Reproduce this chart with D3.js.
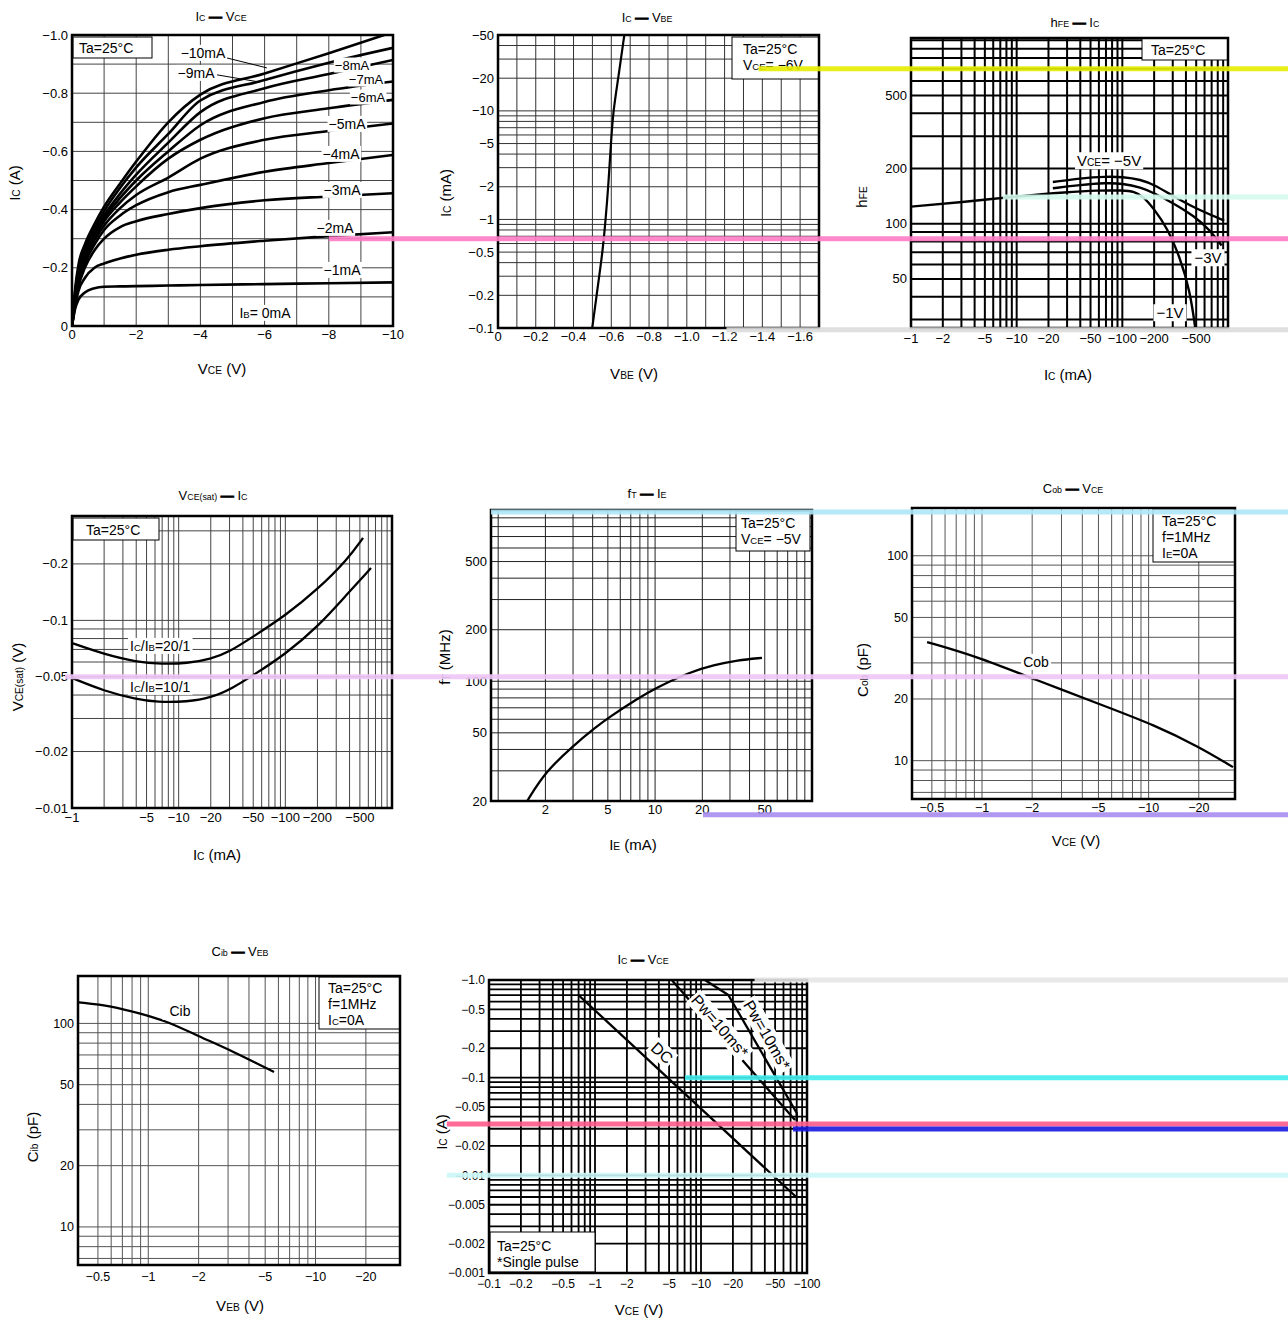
<!DOCTYPE html>
<html lang="en">
<head>
<meta charset="UTF-8" />
<script src="https://d3js.org/d3.v7.min.js"></script>
<title>PNP transistor characteristics</title>
<style>
  body { margin: 0; background: #fff; }
  svg { display: block; font-family: "Liberation Sans", Arial, sans-serif; }
</style>
</head>
<body>
<div id="sheet"></div>
<script>
// ---------- data (magnitudes; the sheet shows them as negative) ----------

// Ic - Vce, one curve per base current
const vceSteps = [0, 0.1, 0.2, 0.4, 0.7, 1, 1.5, 2, 3, 4, 6, 8, 10];
const icIb1  = [0, 0.06, 0.09, 0.115, 0.13, 0.135, 0.136, 0.137, 0.139, 0.141, 0.144, 0.147, 0.15];
const icIb2  = [0, 0.07, 0.12, 0.165, 0.2, 0.215, 0.232, 0.245, 0.262, 0.274, 0.293, 0.309, 0.322];
const icIb3  = [0, 0.08, 0.135, 0.2, 0.26, 0.3, 0.34, 0.36, 0.385, 0.405, 0.432, 0.445, 0.456];
const icIb4  = [0, 0.085, 0.145, 0.215, 0.28, 0.33, 0.38, 0.415, 0.46, 0.485, 0.53, 0.56, 0.588];
const icIb5  = [0, 0.09, 0.15, 0.225, 0.295, 0.345, 0.405, 0.45, 0.51, 0.575, 0.64, 0.67, 0.696];
const icIb6  = [0, 0.095, 0.16, 0.235, 0.305, 0.36, 0.425, 0.48, 0.575, 0.64, 0.714, 0.748, 0.777];
const icIb7  = [0, 0.1, 0.17, 0.245, 0.315, 0.37, 0.44, 0.5, 0.6, 0.69, 0.77, 0.81, 0.84];
const icIb8  = [0, 0.11, 0.18, 0.255, 0.325, 0.38, 0.455, 0.52, 0.63, 0.735, 0.817, 0.866, 0.914];
const icIb9  = [0, 0.12, 0.195, 0.265, 0.335, 0.395, 0.475, 0.545, 0.66, 0.775, 0.845, 0.905, 0.956];
const icIb10 = [0, 0.13, 0.21, 0.28, 0.35, 0.41, 0.49, 0.565, 0.70, 0.795, 0.868, 0.937, 1.01];
const ivceXTicks = [0, 2, 4, 6, 8, 10];
const ivceYTicks = [0, 0.2, 0.4, 0.6, 0.8, 1.0];

// Ic - Vbe
const vbeVals = [0.499, 0.522, 0.554, 0.57, 0.584, 0.598, 0.61, 0.637, 0.669];
const icVbe   = [0.1, 0.2, 0.5, 1, 2, 5, 10, 20, 50];
const vbeXTicks = [0, 0.2, 0.4, 0.6, 0.8, 1.0, 1.2, 1.4, 1.6];
const vbeYTicks = [0.1, 0.2, 0.5, 1, 2, 5, 10, 20, 50];

// hFE - Ic
const hfeIc1V = [1, 3, 10, 30, 60, 100, 130, 160, 200, 263, 350, 437, 490];
const hfe1V   = [124, 131, 141, 149, 152, 152, 150, 140, 120, 96, 66, 43, 27];
const hfeIc3V = [22, 40, 70, 100, 150, 200, 300, 480, 680, 870];
const hfe3V   = [156, 163, 167, 166, 158, 147, 130, 110, 92, 76];
const hfeIc5V = [22, 40, 70, 100, 150, 200, 300, 480, 920];
const hfe5V   = [169, 177, 181, 180, 174, 163, 142, 122, 104];
const hfeXTicks = [1, 2, 5, 10, 20, 50, 100, 200, 500];
const hfeYTicks = [50, 100, 200, 500];

// Vce(sat) - Ic
const satIc20 = [1, 2, 4, 7, 12, 20, 30, 50, 100, 200, 380, 535];
const sat20   = [0.0757, 0.066, 0.06, 0.0585, 0.059, 0.0622, 0.068, 0.082, 0.106, 0.146, 0.21, 0.275];
const satIc10 = [1, 2, 4, 6.3, 12, 20, 32, 50, 100, 200, 380, 635];
const sat10   = [0.0493, 0.042, 0.038, 0.0366, 0.0368, 0.0386, 0.0435, 0.051, 0.066, 0.092, 0.138, 0.19];
const satXTicks = [1, 5, 10, 20, 50, 100, 200, 500];
const satYTicks = [0.01, 0.02, 0.05, 0.1, 0.2];

// fT - Ie
const ftIe = [1.53, 2, 3, 4.2, 5, 7.7, 10, 17, 23.5, 33.5, 48];
const ftVals = [20, 29.6, 42, 54, 61, 79, 91, 114, 124, 133, 137];
const ftXTicks = [2, 5, 10, 20, 50];
const ftYTicks = [20, 50, 100, 200, 500];

// Cob - Vce
const cobV = [0.468, 0.923, 2.02, 5.72, 10.64, 20.07, 32.1];
const cobVals = [37.9, 32.3, 25.1, 18.2, 15.0, 11.7, 9.3];
// Cib - Veb
const cibV = [0.383, 0.6, 0.92, 1.29, 2.0, 3.2, 5.65];
const cibVals = [127, 122, 111, 102.6, 86.5, 73, 57.7];
const capXTicks = [0.5, 1, 2, 5, 10, 20];
const capYTicks = [10, 20, 50, 100];

// safe operating area
const soaDcV = [0.697, 78.7];
const soaDcI = [0.702, 0.00604];
const soaPw1V = [5.29, 77.1];
const soaPw1I = [1.0, 0.0369];
const soaPw2V = [10.9, 18.1, 80, 80];
const soaPw2I = [1.0, 0.702, 0.0435, 0.0354];
const soaXTicks = [0.1, 0.2, 0.5, 1, 2, 5, 10, 20, 50, 100];
const soaYTicks = [1, 0.5, 0.2, 0.1, 0.05, 0.02, 0.01, 0.005, 0.002, 0.001];

// ---------- drawing ----------
const W = 1288, H = 1323;
const SANS = '"Liberation Sans", Arial, sans-serif';
const NARROW = '"Liberation Sans Narrow", "Liberation Sans", Arial, sans-serif';
const MINUS = "\u2212";

const svg = d3.select("#sheet").append("svg").attr("width", W).attr("height", H);

const neg = v => v === 0 ? "0" : MINUS + v;
const neg1 = v => v === 0 ? "0" : MINUS + v.toFixed(1);
const plain = v => String(v);

// "I_{C}" -> I with a small C, the long dash drawn heavy
function rich(t, str, size) {
  str.split(/(_\{[^}]*\}|—)/).forEach(part => {
    if (!part) return;
    const m = part.match(/^_\{(.*)\}$/);
    const s = t.append("tspan").text(m ? m[1] : part);
    if (m) s.attr("font-size", size * 0.68);
    if (part === "—") s.attr("font-weight", 700).attr("stroke", "#000").attr("stroke-width", 0.9);
  });
}

function tag(g, str, x, y, o = {}) {
  const size = o.size || 14;
  const t = g.append("text")
    .attr("x", x).attr("y", y)
    .attr("dy", "0.35em")
    .attr("text-anchor", o.anchor || "middle")
    .attr("font-size", size);
  rich(t, str, size);
  if (o.bg !== false) {
    const bb = t.node().getBBox();
    const px = o.padX ?? 2, py = o.padY ?? 0;
    g.insert("rect", () => t.node())
      .attr("x", bb.x - px).attr("y", bb.y - py)
      .attr("width", bb.width + 2 * px).attr("height", bb.height + 2 * py)
      .attr("fill", "#fff");
  }
  return t;
}

function panel(p) {
  const { l, t, r, b } = p.box;
  const x = (p.xLog ? d3.scaleLog() : d3.scaleLinear()).domain(p.xDomain).range([l, r]);
  const y = (p.yLog ? d3.scaleLog() : d3.scaleLinear()).domain(p.yDomain).range([b, t]);
  const g = svg.append("g");

  const grid = g.append("g").attr("stroke", p.gridColor).attr("stroke-width", p.gridWidth);
  grid.selectAll("line.v").data(p.xGrid(x)).join("line").attr("class", "v")
    .attr("x1", d => x(d)).attr("x2", d => x(d)).attr("y1", t).attr("y2", b);
  grid.selectAll("line.h").data(p.yGrid(y)).join("line").attr("class", "h")
    .attr("y1", d => y(d)).attr("y2", d => y(d)).attr("x1", l).attr("x2", r);

  const clipId = "clip-" + p.id;
  g.append("clipPath").attr("id", clipId).append("rect")
    .attr("x", l).attr("y", t).attr("width", r - l).attr("height", b - t);
  const plot = g.append("g").attr("clip-path", `url(#${clipId})`);
  const line = d3.line().x(d => x(d[0])).y(d => y(d[1])).curve(p.curve || d3.curveBasis);
  p.series.forEach(s => {
    plot.append("path")
      .attr("d", line(d3.zip(s[0], s[1])))
      .attr("fill", "none")
      .attr("stroke", "#000")
      .attr("stroke-width", p.lineWidth)
      .attr("stroke-linejoin", "round");
  });

  const notes = g.append("g");

  if (p.legend) {
    const L = p.legend;
    g.append("rect").attr("x", L.x).attr("y", L.y).attr("width", L.w).attr("height", L.h)
      .attr("fill", "#fff").attr("stroke", "#000").attr("stroke-width", 1);
    L.lines.forEach((s, i) => {
      const tx = g.append("text").attr("x", L.tx).attr("y", L.ty + i * 16).attr("font-size", 14);
      rich(tx, s, 14);
    });
  }

  g.append("rect").attr("x", l).attr("y", t).attr("width", r - l).attr("height", b - t)
    .attr("fill", "none").attr("stroke", "#000").attr("stroke-width", p.frameWidth || 2.5);

  g.append("g").selectAll("text").data(p.xTicks).join("text")
    .attr("x", d => x(d)).attr("y", b + p.xGap).attr("dy", "0.71em")
    .attr("text-anchor", "middle")
    .attr("font-family", p.tickFamily).attr("font-size", p.tickSize)
    .text(p.xFmt);
  g.append("g").selectAll("text").data(p.yTicks).join("text")
    .attr("x", l - 4).attr("y", d => y(d)).attr("dy", "0.35em")
    .attr("text-anchor", "end")
    .attr("font-family", p.tickFamily).attr("font-size", p.tickSize)
    .text(p.yFmt);

  const title = g.append("text").attr("x", p.title[1]).attr("y", p.title[2])
    .attr("text-anchor", "middle").attr("font-size", 13);
  rich(title, p.title[0], 13);
  const xl = g.append("text").attr("x", p.xLabel[1]).attr("y", p.xLabel[2])
    .attr("text-anchor", "middle").attr("font-size", 15);
  rich(xl, p.xLabel[0], 15);
  const yl = g.append("text").attr("x", p.yLabel[1]).attr("y", p.yLabel[2])
    .attr("dy", "0.35em").attr("text-anchor", "middle").attr("font-size", 15)
    .attr("transform", `rotate(-90,${p.yLabel[1]},${p.yLabel[2]})`);
  rich(yl, p.yLabel[0], 15);

  return { x, y, g, notes };
}

const logGrid = (lo, hi) => s => s.ticks().filter(v => v >= lo && v <= hi);

// 1. Ic - Vce
const c1 = panel({
  id: "c1", box: { l: 72, t: 35, r: 393, b: 326 },
  xDomain: [0, 10], yDomain: [0, 1],
  xGrid: () => d3.range(1, 10), yGrid: () => d3.range(1, 10).map(i => i / 10),
  gridColor: "#444", gridWidth: 1, lineWidth: 2.6, curve: d3.curveMonotoneX,
  series: [icIb1, icIb2, icIb3, icIb4, icIb5, icIb6, icIb7, icIb8, icIb9, icIb10].map(a => [vceSteps, a]),
  xTicks: ivceXTicks, yTicks: ivceYTicks, xFmt: neg, yFmt: neg1,
  tickFamily: SANS, tickSize: 13, xGap: 4,
  title: ["I_{C} — V_{CE}", 221, 21], xLabel: ["V_{CE} (V)", 222, 374], yLabel: ["I_{C} (A)", 15, 183],
  legend: { x: 73, y: 37, w: 79, h: 21, tx: 79, ty: 53, lines: ["Ta=25°C"] }
});
[[4.83, 0.921, 6.07, 0.887], [4.52, 0.863, 5.86, 0.838]].forEach(d => {
  c1.notes.append("line").attr("x1", c1.x(d[0])).attr("y1", c1.y(d[1]))
    .attr("x2", c1.x(d[2])).attr("y2", c1.y(d[3])).attr("stroke", "#000").attr("stroke-width", 1);
});
[["−10mA", 203, 53, 14], ["−9mA", 196, 73, 14], ["−8mA", 352, 65, 13], ["−7mA", 366, 79, 13], ["−6mA", 368, 97, 13],
 ["−5mA", 347, 124, 14], ["−4mA", 341, 154, 14], ["−3mA", 342, 190, 14], ["−2mA", 335, 228, 14], ["−1mA", 342, 270, 14],
 ["I_{B}= 0mA", 265, 313, 14]].forEach(d => tag(c1.notes, d[0], d[1], d[2], { size: d[3], padX: 1 }));

// 2. Ic - Vbe
const c2 = panel({
  id: "c2", box: { l: 498, t: 35, r: 819, b: 328 },
  xDomain: [0, 1.7], yLog: true, yDomain: [0.1, 50],
  xGrid: () => d3.range(1, 17).map(i => i / 10), yGrid: logGrid(0.2, 40),
  gridColor: "#333", gridWidth: 1, lineWidth: 2.2,
  series: [[vbeVals, icVbe]],
  xTicks: vbeXTicks, yTicks: vbeYTicks, xFmt: neg1, yFmt: neg,
  tickFamily: NARROW, tickSize: 13, xGap: 4,
  title: ["I_{C} — V_{BE}", 647, 22], xLabel: ["V_{BE} (V)", 634, 379], yLabel: ["I_{C} (mA)", 446, 193],
  legend: { x: 732, y: 37, w: 87, h: 42, tx: 743, ty: 54, lines: ["Ta=25°C", "V_{CE}= −6V"] }
});

// 3. hFE - Ic
const c3 = panel({
  id: "c3", box: { l: 911, t: 38, r: 1228, b: 328 },
  xLog: true, xDomain: [1, 1000], yLog: true, yDomain: [27, 1030],
  xGrid: logGrid(2, 900), yGrid: logGrid(30, 1000),
  gridColor: "#000", gridWidth: 2, lineWidth: 2.4,
  series: [[hfeIc1V, hfe1V], [hfeIc3V, hfe3V], [hfeIc5V, hfe5V]],
  xTicks: hfeXTicks, yTicks: hfeYTicks, xFmt: neg, yFmt: plain,
  tickFamily: NARROW, tickSize: 13, xGap: 6,
  title: ["h_{FE} — I_{C}", 1075, 27], xLabel: ["I_{C} (mA)", 1068, 380], yLabel: ["h_{FE}", 862, 197],
  legend: { x: 1142, y: 38, w: 86, h: 22, tx: 1151, ty: 55, lines: ["Ta=25°C"] }
});
tag(c3.notes, "V_{CE}= −5V", 1077, 161, { anchor: "start", size: 15 });
tag(c3.notes, "−3V", 1208, 258, { size: 15, padX: 3 });
tag(c3.notes, "−1V", 1170, 313, { size: 15, padX: 3 });

// 4. Vce(sat) - Ic
const c4 = panel({
  id: "c4", box: { l: 72, t: 516, r: 392, b: 808 },
  xLog: true, xDomain: [1, 1000], yLog: true, yDomain: [0.01, 0.36],
  xGrid: logGrid(2, 900), yGrid: logGrid(0.02, 0.3),
  gridColor: "#444", gridWidth: 1, lineWidth: 2.3,
  series: [[satIc20, sat20], [satIc10, sat10]],
  xTicks: satXTicks, yTicks: satYTicks, xFmt: neg, yFmt: neg,
  tickFamily: NARROW, tickSize: 13, xGap: 5,
  title: ["V_{CE(sat)} — I_{C}", 213, 500], xLabel: ["I_{C} (mA)", 217, 860], yLabel: ["V_{CE(sat)} (V)", 18, 677],
  legend: { x: 73, y: 518, w: 86, h: 22, tx: 86, ty: 535, lines: ["Ta=25°C"] }
});
tag(c4.notes, "I_{C}/I_{B}=20/1", 130, 646, { anchor: "start", size: 14 });
tag(c4.notes, "I_{C}/I_{B}=10/1", 130, 687, { anchor: "start", size: 14 });

// 5. fT - Ie
const c5 = panel({
  id: "c5", box: { l: 491, t: 510, r: 812, b: 801 },
  xLog: true, xDomain: [0.9, 100], yLog: true, yDomain: [20, 1000],
  xGrid: logGrid(1, 90), yGrid: logGrid(30, 900),
  gridColor: "#222", gridWidth: 1, lineWidth: 2.3,
  series: [[ftIe, ftVals]],
  xTicks: ftXTicks, yTicks: ftYTicks, xFmt: plain, yFmt: plain,
  tickFamily: NARROW, tickSize: 13, xGap: 4,
  title: ["f_{T} — I_{E}", 647, 498], xLabel: ["I_{E} (mA)", 633, 850], yLabel: ["f_{T} (MHz)", 445, 657],
  legend: { x: 736, y: 511, w: 74, h: 40, tx: 741, ty: 528, lines: ["Ta=25°C", "V_{CE}= −5V"] }
});

// 6. Cob - Vce
const c6 = panel({
  id: "c6", box: { l: 912, t: 508, r: 1235, b: 799 },
  xLog: true, xDomain: [0.38, 33], yLog: true, yDomain: [6.5, 171],
  xGrid: logGrid(0.5, 20), yGrid: logGrid(7, 100),
  gridColor: "#555", gridWidth: 1, lineWidth: 2.3,
  series: [[cobV, cobVals]],
  xTicks: capXTicks, yTicks: capYTicks, xFmt: neg, yFmt: plain,
  tickFamily: SANS, tickSize: 12.5, xGap: 4,
  title: ["C_{ob} — V_{CE}", 1073, 493], xLabel: ["V_{CE} (V)", 1076, 846], yLabel: ["C_{ob} (pF)", 863, 670],
  legend: { x: 1153, y: 509, w: 82, h: 53, tx: 1162, ty: 526, lines: ["Ta=25°C", "f=1MHz", "I_{E}=0A"] }
});
tag(c6.notes, "Cob", 1036, 662, { size: 14, padX: 2 });

// 7. Cib - Veb
const c7 = panel({
  id: "c7", box: { l: 78, t: 976, r: 400, b: 1265 },
  xLog: true, xDomain: [0.38, 32], yLog: true, yDomain: [6.5, 171],
  xGrid: logGrid(0.5, 20), yGrid: logGrid(7, 100),
  gridColor: "#555", gridWidth: 1, lineWidth: 2.3,
  series: [[cibV, cibVals]],
  xTicks: capXTicks, yTicks: capYTicks, xFmt: neg, yFmt: plain,
  tickFamily: SANS, tickSize: 12.5, xGap: 7,
  title: ["C_{ib} — V_{EB}", 240, 956], xLabel: ["V_{EB} (V)", 240, 1311], yLabel: ["C_{ib} (pF)", 33, 1137],
  legend: { x: 319, y: 977, w: 81, h: 52, tx: 328, ty: 993, lines: ["Ta=25°C", "f=1MHz", "I_{C}=0A"] }
});
tag(c7.notes, "Cib", 180, 1011, { size: 14, padX: 7, padY: 1 });

// 8. safe operating area
const c8 = panel({
  id: "c8", box: { l: 489, t: 980, r: 807, b: 1273 },
  xLog: true, xDomain: [0.1, 100], yLog: true, yDomain: [0.001, 1],
  xGrid: logGrid(0.2, 90), yGrid: logGrid(0.002, 0.9),
  gridColor: "#000", gridWidth: 1.8, lineWidth: 2.3, curve: d3.curveLinear,
  series: [[soaDcV, soaDcI], [soaPw1V, soaPw1I], [soaPw2V, soaPw2I]],
  xTicks: soaXTicks, yTicks: soaYTicks, xFmt: neg, yFmt: v => v === 1 ? MINUS + "1.0" : neg(v),
  tickFamily: NARROW, tickSize: 12, xGap: 6,
  title: ["I_{C} — V_{CE}", 643, 964], xLabel: ["V_{CE} (V)", 639, 1315], yLabel: ["I_{C} (A)", 442, 1132],
  legend: { x: 490, y: 1232, w: 105, h: 40, tx: 497, ty: 1251, lines: ["Ta=25°C", "*Single pulse"] }
});
function slopeAngle(p, xs, ys, i) {
  return Math.atan2(p.y(ys[i + 1]) - p.y(ys[i]), p.x(xs[i + 1]) - p.x(xs[i])) * 180 / Math.PI;
}
[["DC", 662, 1053, slopeAngle(c8, soaDcV, soaDcI, 0)],
 ["Pw=10ms*", 720, 1026, slopeAngle(c8, soaPw1V, soaPw1I, 0)],
 ["Pw=10ms*", 767, 1035, slopeAngle(c8, soaPw2V, soaPw2I, 1)]].forEach(d => {
  const rg = c8.notes.append("g").attr("transform", `translate(${d[1]},${d[2]}) rotate(${d[3]})`);
  tag(rg, d[0], 0, 0, { size: 16, padX: 2, padY: 1 });
});

// coloured marker bands that run across the sheet to the right edge
const bands = [
  { yp: c3, y: 700, xp: c2, x: 1.38, color: "#e6ee00" },
  { yp: c1, y: 0.3, xp: c1, x: 8, color: "#ff7cc6" },
  { yp: c3, y: 140, xp: c3, x: 7.4, color: "#d4fbee" },
  { yp: c3, y: 26.4, xp: c2, x: 1.21, color: "#dcdcdc" },
  { yp: c5, y: 973, xp: c5, x: 0.9, color: "#aee6f8" },
  { yp: c4, y: 0.05, xp: c4, x: 0.86, color: "#efc6f7" },
  { yp: c5, y: 16.6, xp: c5, x: 20.2, color: "#a88cf0" },
  { yp: c8, y: 1, xp: c8, x: 32, color: "#e6e6e6" },
  { yp: c8, y: 0.1, xp: c8, x: 7.06, color: "#44eeee" },
  { yp: c8, y: 0.0336, xp: c8, x: 0.04, color: "#ff5a8c" },
  { yp: c8, y: 0.0298, xp: c8, x: 73.8, color: "#1a1ae0" },
  { yp: c8, y: 0.01, xp: c8, x: 0.04, color: "#ccf8f8" }
];
svg.append("g").selectAll("line").data(bands).join("line")
  .attr("x1", d => d.xp.x(d.x)).attr("x2", W)
  .attr("y1", d => d.yp.y(d.y)).attr("y2", d => d.yp.y(d.y))
  .attr("stroke", d => d.color).attr("stroke-width", 5).attr("opacity", 0.9);
</script>
</body>
</html>
